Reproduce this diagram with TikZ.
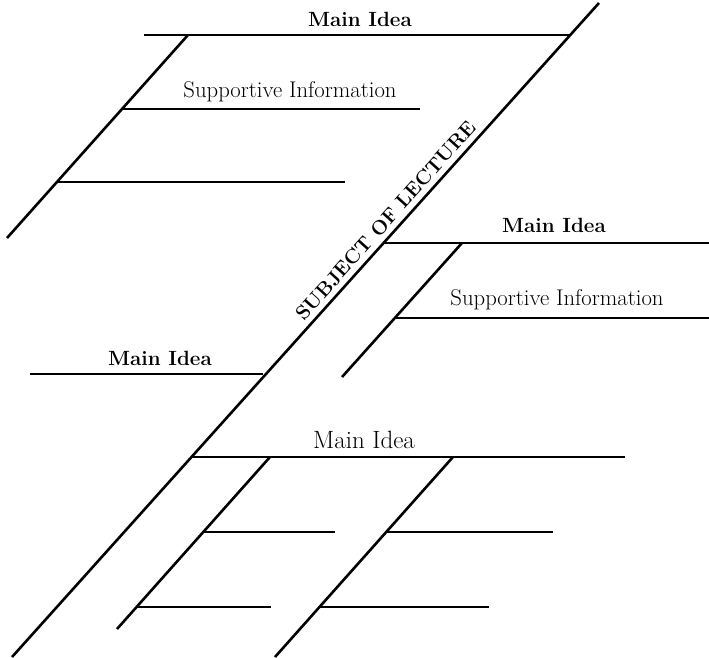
\documentclass[tikz,border=0pt]{standalone}
\usepackage{tikz}
\usetikzlibrary{positioning,calc}
\tikzset{
  bone/.style={line width=2.6pt},
  idea/.style={font=\bfseries\fontsize{20.6}{24}\selectfont, inner sep=0pt},
  plainidea/.style={font=\fontsize{25}{30}\selectfont, inner sep=0pt},
  detail/.style={font=\fontsize{22.7}{27}\selectfont, inner sep=0pt}
}

\begin{document}
\begin{tikzpicture}[x=1pt, y=-1pt]
  \useasboundingbox (0,0) rectangle (709,658);
  % spine
  \coordinate (sT) at (599,3);
  \coordinate (sB) at (12,657);
  % upper left bone
  \coordinate (m1L) at (144,35);
  \coordinate (m1R) at (570,35);
  \coordinate (b1T) at (188,35);
  \coordinate (b1B) at (7,238);
  \coordinate (s1L) at (123,109);
  \coordinate (s1R) at (420,109);
  \coordinate (s2L) at (57,182);
  \coordinate (s2R) at (345,182);
  % right bone
  \coordinate (m2L) at (383,243);
  \coordinate (m2R) at (709,243);
  \coordinate (b2T) at (462,243);
  \coordinate (b2B) at (342,377);
  \coordinate (s3L) at (395,318);
  \coordinate (s3R) at (709,318);
  % left bone
  \coordinate (m3L) at (30,374);
  \coordinate (m3R) at (263,374);
  % lower bone
  \coordinate (m4L) at (193,457);
  \coordinate (m4R) at (625,457);
  \coordinate (b3T) at (270,457);
  \coordinate (b3B) at (117,629);
  \coordinate (b4T) at (453,457);
  \coordinate (b4B) at (275,657);
  \coordinate (s4L) at (204,532);
  \coordinate (s4R) at (335,532);
  \coordinate (s5L) at (137,607);
  \coordinate (s5R) at (271,607);
  \coordinate (s6L) at (387,532);
  \coordinate (s6R) at (553,532);
  \coordinate (s7L) at (320,607);
  \coordinate (s7R) at (489,607);

  \draw[bone] (sB) -- (sT) node[pos=0.654, sloped, above=5pt, inner sep=0pt, font=\bfseries\fontsize{20}{24}\selectfont] (subj) {SUBJECT OF LECTURE};
  \foreach \a/\b in {m1L/m1R, b1T/b1B, s1L/s1R, s2L/s2R, m2L/m2R, b2T/b2B, s3L/s3R,
                     m3L/m3R, m4L/m4R, b3T/b3B, b4T/b4B, s4L/s4R, s5L/s5R, s6L/s6R, s7L/s7R}
    \draw[bone] (\a) -- (\b);

  \node[idea] (idea1) at (360,19) {Main Idea};
  \node[detail] (info1) at (290,92) {Supportive Information};
  \node[idea] (idea2) at (554,225) {Main Idea};
  \node[detail] (info2) at (557,300) {Supportive Information};
  \node[idea] (idea3) at (160,358) {Main Idea};
  \node[plainidea] (idea4) at (364,440) {Main Idea};
\end{tikzpicture}
\end{document}
